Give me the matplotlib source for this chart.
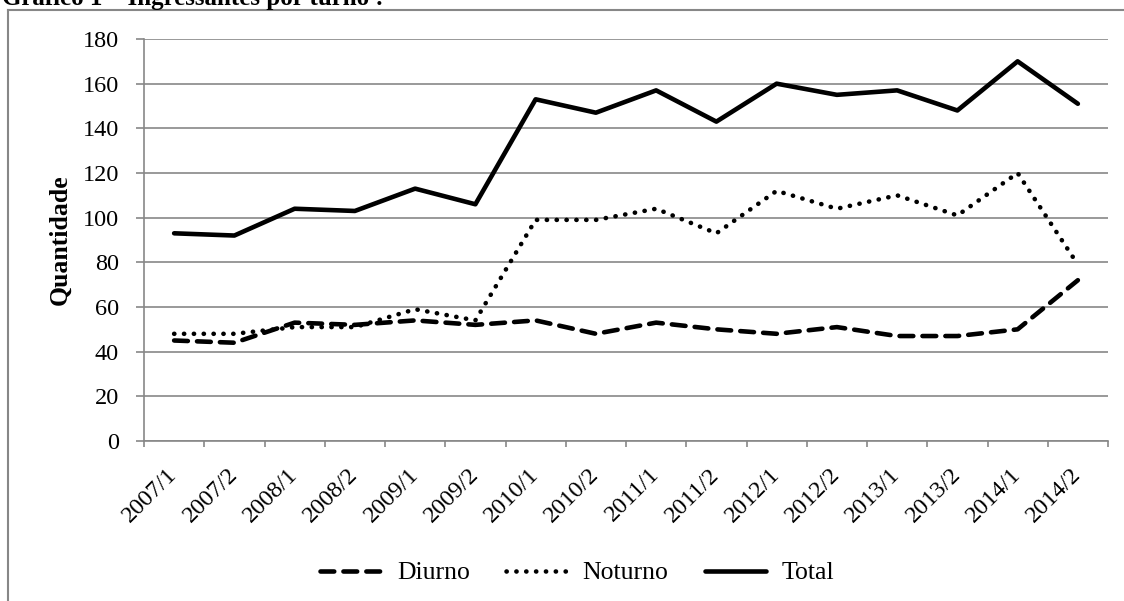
import matplotlib.pyplot as plt
from matplotlib.lines import Line2D
import numpy as np

plt.rcParams['font.family'] = ['Liberation Serif', 'DejaVu Serif']

semestres = ['2007/1', '2007/2', '2008/1', '2008/2', '2009/1', '2009/2',
             '2010/1', '2010/2', '2011/1', '2011/2', '2012/1', '2012/2',
             '2013/1', '2013/2', '2014/1', '2014/2']
diurno = [45, 44, 53, 52, 54, 52, 54, 48, 53, 50, 48, 51, 47, 47, 50, 72]
noturno = [48, 48, 51, 51, 59, 54, 99, 99, 104, 93, 112, 104, 110, 101, 120, 79]
total = [93, 92, 104, 103, 113, 106, 153, 147, 157, 143, 160, 155, 157, 148, 170, 151]

W, H = 1124, 601
fig = plt.figure(figsize=(W / 100, H / 100), dpi=100)
ax = fig.add_axes([144 / W, 1 - 441 / H, (1108 - 144) / W, (441 - 39) / H])

gray = '#878787'
x = np.arange(len(semestres))

ax.plot(x, diurno, color='black', lw=3.3, dashes=(3.0, 2.0),
        dash_capstyle='round', label='Diurno')
ax.plot(x, noturno, color='black', lw=3.3, dashes=(0.05, 2.1),
        dash_capstyle='round', label='Noturno')
ax.plot(x, total, color='black', lw=3.3, solid_capstyle='round', label='Total')

ax.set_xlim(-0.5, len(semestres) - 0.5)
ax.set_ylim(0, 180)
ax.set_yticks(range(0, 181, 20))
ax.yaxis.grid(True, color=gray, lw=1.2)
ax.set_axisbelow(True)

ax.set_xticks(x)
ax.set_xticklabels(semestres, rotation=45, ha='right', va='center',
                   rotation_mode='anchor', fontsize=17.5)
ax.set_xticks(np.arange(-0.5, len(semestres), 1), minor=True)
ax.tick_params(axis='x', which='major', length=0, pad=22)
ax.tick_params(axis='x', which='minor', length=4.5, color=gray, width=1.2)
ax.tick_params(axis='y', length=6, color=gray, width=1.2, pad=12, labelsize=17.5)

for s in ['top', 'right']:
    ax.spines[s].set_visible(False)
for s in ['left', 'bottom']:
    ax.spines[s].set_color(gray)
    ax.spines[s].set_linewidth(1.2)

ax.set_ylabel('Quantidade', fontsize=18.5, fontweight='bold', labelpad=8)

fig.legend(loc='center', bbox_to_anchor=(577 / W, 1 - 573 / H), ncol=3,
           frameon=False, fontsize=18.5, handlelength=2.4, handletextpad=0.6,
           columnspacing=1.4)

# moldura do gráfico e título cortado no topo
fig.add_artist(Line2D([8 / W, 1], [1 - 10 / H, 1 - 10 / H], color=gray, lw=1.5))
fig.add_artist(Line2D([8 / W, 8 / W], [0, 1 - 10 / H], color=gray, lw=1.5))
fig.text(2 / W, 1 - 5 / H, 'Gráfico 1 – Ingressantes por turno :', fontsize=18,
         fontweight='bold', ha='left', va='baseline')

fig.savefig('out.png', dpi=100)
